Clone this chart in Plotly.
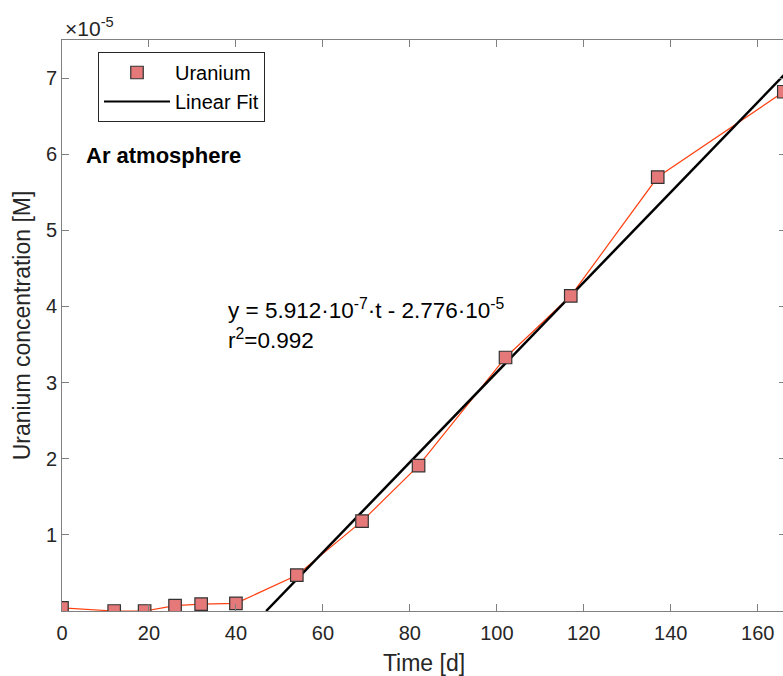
import plotly.graph_objects as go

time_d = [0, 12, 19, 26, 32, 40, 54, 69, 82, 102, 117, 137, 166]
uranium_M = [0.04e-5, 0.0, 0.0, 0.07e-5, 0.09e-5, 0.10e-5, 0.47e-5, 1.18e-5,
             1.91e-5, 3.33e-5, 4.14e-5, 5.70e-5, 6.82e-5]
fit_slope = 5.912e-7
fit_intercept = -2.776e-5
fit_t = [-fit_intercept / fit_slope, 166.5]
fit_y = [fit_slope * t + fit_intercept for t in fit_t]
y_tick_vals = [1e-5, 2e-5, 3e-5, 4e-5, 5e-5, 6e-5, 7e-5]
y_tick_text = ["1", "2", "3", "4", "5", "6", "7"]
x_tick_vals = [0, 20, 40, 60, 80, 100, 120, 140, 160]

FONT = "Liberation Sans, Arial, sans-serif"
TXT = "#262626"
AX = "#808080"
W, H = 786, 676
L, T, B = 62, 40, 65
PW, PH = W - L, H - T - B


def px(x):
    return (x - L) / PW


def py(y):
    return (H - B - y) / PH


fig = go.Figure()
fig.add_trace(go.Scatter(x=time_d, y=uranium_M, mode="lines",
                         line=dict(color="#FF4010", width=1.2), showlegend=False,
                         hoverinfo="skip"))
fig.add_trace(go.Scatter(x=fit_t, y=fit_y, mode="lines", name="Linear Fit",
                         line=dict(color="black", width=2.5), showlegend=False))
fig.add_trace(go.Scatter(x=time_d, y=uranium_M, mode="markers", name="Uranium",
                         marker=dict(symbol="square", size=12.5, color="#E57878",
                                     line=dict(color="#333333", width=1.2))))
fig.add_trace(go.Scatter(x=[None], y=[None], mode="lines", name="Linear Fit",
                         line=dict(color="black", width=2)))

fig.update_layout(
    width=W, height=H,
    margin=dict(l=L, r=0, t=T, b=B),
    plot_bgcolor="white", paper_bgcolor="white",
    font=dict(family=FONT, color=TXT, size=20),
    legend=dict(x=px(98), y=py(52), xanchor="left", yanchor="top",
                bgcolor="white", bordercolor="#262626", borderwidth=1,
                font=dict(size=20, color="black"), itemwidth=66,
                tracegroupgap=0),
    xaxis=dict(range=[0, 166.5], tickvals=x_tick_vals, ticks="inside", ticklen=7,
               tickcolor=AX, linecolor=AX, linewidth=1, showline=True, mirror="ticks",
               showgrid=False, zeroline=False, tickfont=dict(size=20, color=TXT),
               ticklabelstandoff=4,
               title=dict(text="Time [d]", font=dict(size=23, color=TXT), standoff=12)),
    yaxis=dict(range=[0, 7.5e-5], tickvals=y_tick_vals, ticktext=y_tick_text,
               ticks="inside", ticklen=7, tickcolor=AX, linecolor=AX, linewidth=1,
               showline=True, mirror="ticks", showgrid=False, zeroline=False,
               tickfont=dict(size=20, color=TXT),
               title=dict(text="Uranium concentration [M]", font=dict(size=23, color=TXT),
                          standoff=8)),
)

fig.add_annotation(x=px(63), y=py(27), xref="paper", yref="paper", xanchor="left",
                   yanchor="middle", showarrow=False,
                   text="×10<sup>-5</sup>", font=dict(size=21, color=TXT))
fig.add_annotation(x=px(84), y=py(155.5), xref="paper", yref="paper", xanchor="left",
                   yanchor="middle", showarrow=False,
                   text="<b>Ar atmosphere</b>", font=dict(size=22, color="black"))
fig.add_annotation(x=px(226), y=py(309), xref="paper", yref="paper", xanchor="left",
                   yanchor="middle", showarrow=False,
                   text="y = 5.912·10<sup>-7</sup>·t - 2.776·10<sup>-5</sup>",
                   font=dict(size=22.5, color="black"))
fig.add_annotation(x=px(226), y=py(339), xref="paper", yref="paper", xanchor="left",
                   yanchor="middle", showarrow=False,
                   text="r<sup>2</sup>=0.992",
                   font=dict(size=22.5, color="black"))

fig.write_html("out.html", config={"displayModeBar": False})

with open("out.html", "r", encoding="utf-8") as f:
    html = f.read()
html = html.replace("<body>", '<body style="margin:0;overflow:hidden">', 1)
with open("out.html", "w", encoding="utf-8") as f:
    f.write(html)
